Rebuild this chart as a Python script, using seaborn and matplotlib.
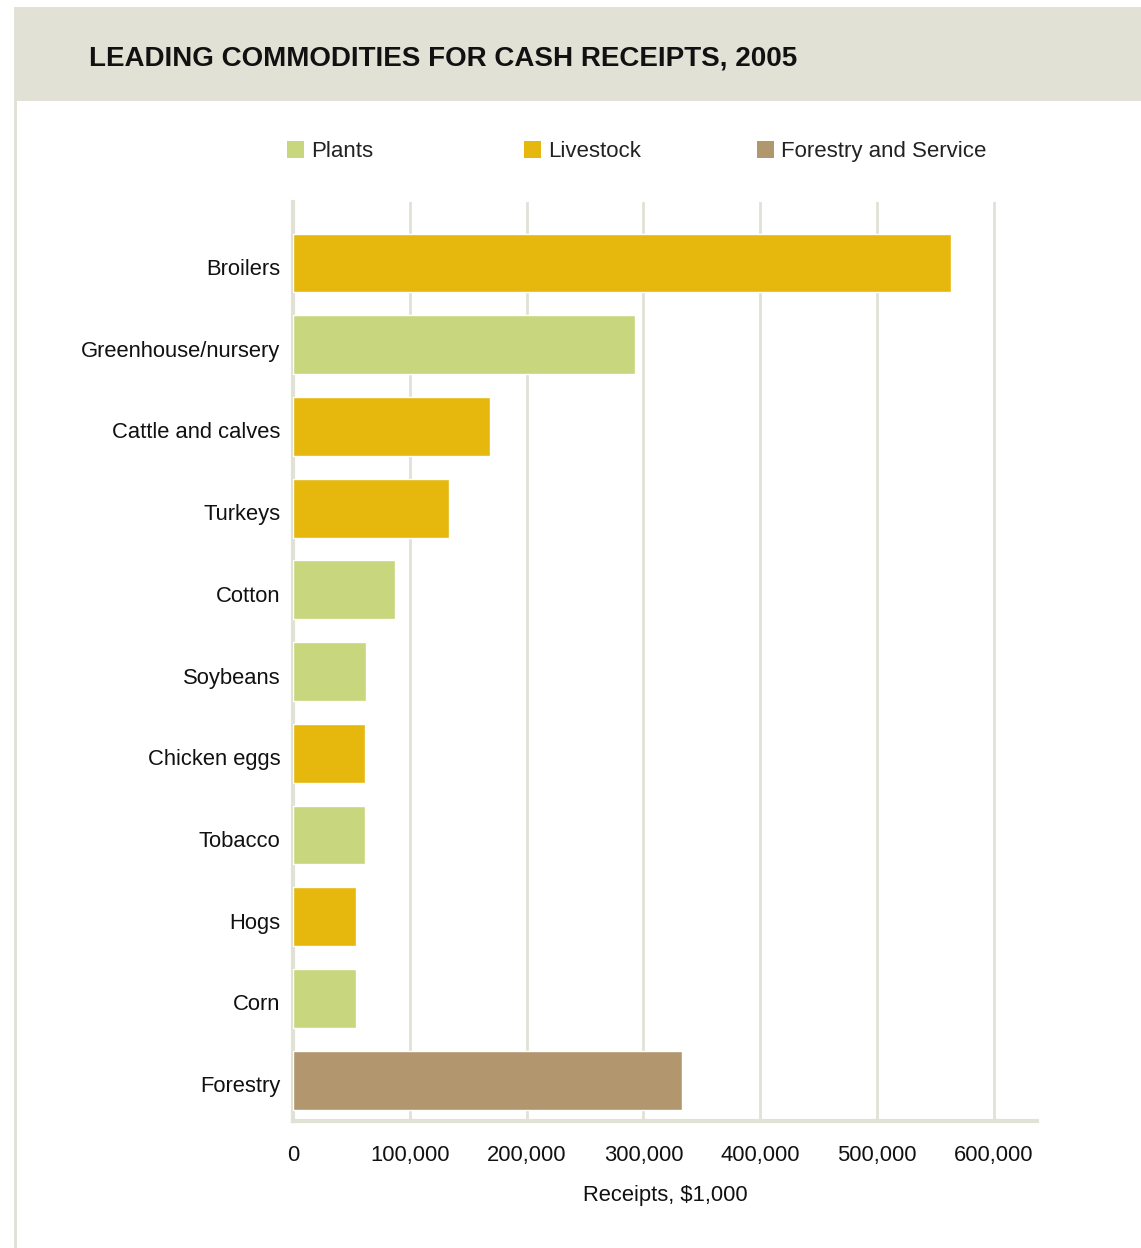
import matplotlib
matplotlib.use("Agg")
import matplotlib.pyplot as plt
import matplotlib.patches as mpatches
from matplotlib.transforms import ScaledTranslation
import seaborn as sns
import pandas as pd

commodities = ["Broilers", "Greenhouse/nursery", "Cattle and calves", "Turkeys", "Cotton",
               "Soybeans", "Chicken eggs", "Tobacco", "Hogs", "Corn", "Forestry"]
receipts = [563000, 293000, 168500, 133500, 87000, 62500, 61500, 61500, 54000, 54000, 333000]
groups = ["Livestock", "Plants", "Livestock", "Livestock", "Plants",
          "Plants", "Livestock", "Plants", "Livestock", "Plants", "Forestry and Service"]
legend_order = ["Plants", "Livestock", "Forestry and Service"]
palette = {"Plants": "#c8d67d", "Livestock": "#e6b70c", "Forestry and Service": "#b2966e"}
x_ticks = [0, 100000, 200000, 300000, 400000, 500000, 600000]

df = pd.DataFrame({"Commodity": commodities, "Receipts": receipts, "Group": groups})

sns.set_theme(style="white")
plt.rcParams['font.family'] = ['Liberation Sans', 'DejaVu Sans']

W, H = 1141, 1248
fig = plt.figure(figsize=(W / 100, H / 100), dpi=100)
fig.patch.set_facecolor("white")

grey = "#e2e1d6"
# header band
fig.patches.append(mpatches.Rectangle((14 / W, 1 - 101 / H), 1 - 14 / W, 94 / H,
                                      transform=fig.transFigure, facecolor=grey, edgecolor="none", zorder=0))
# left border
fig.patches.append(mpatches.Rectangle((14 / W, 0), 3 / W, 1 - 101 / H,
                                      transform=fig.transFigure, facecolor=grey, edgecolor="none", zorder=0))
fig.text(89 / W, 1 - 58 / H, "LEADING COMMODITIES FOR CASH RECEIPTS, 2005",
         fontsize=20, fontweight="bold", color="#111111", ha="left", va="center")

ax_left, ax_right, ax_top, ax_bottom = 293, 1037, 202, 1121
ax = fig.add_axes([ax_left / W, 1 - ax_bottom / H, (ax_right - ax_left) / W, (ax_bottom - ax_top) / H])

sns.barplot(data=df, y="Commodity", x="Receipts", hue="Group", palette=palette,
            dodge=False, width=0.72, orient="h", ax=ax, legend=False, saturation=1,
            order=commodities, hue_order=legend_order, zorder=3)

ax.set_xlim(0, (ax_right - ax_left) / 1.168 * 1000)
ax.set_ylim(10.5, -0.747)
ax.set_xticks(x_ticks)
ax.set_xticklabels([f"{v:,}" for v in x_ticks], fontsize=15.8, color="#111111")
ax.tick_params(axis="x", length=0, pad=17)
ax.tick_params(axis="y", length=0, pad=9, labelsize=15.8, labelcolor="#111111")
off = ScaledTranslation(0, -4 / 100, fig.dpi_scale_trans)
for lab in ax.get_yticklabels():
    lab.set_transform(lab.get_transform() + off)
ax.xaxis.grid(True, color=grey, linewidth=2, zorder=0)
ax.set_axisbelow(True)
ax.set_ylabel("")
ax.set_xlabel("Receipts, $1,000", fontsize=15.8, color="#111111", labelpad=14)
for s in ["top", "right"]:
    ax.spines[s].set_visible(False)
ax.spines["left"].set_color(grey)
ax.spines["left"].set_linewidth(3)
ax.spines["bottom"].set_color(grey)
ax.spines["bottom"].set_linewidth(3)

# legend
leg_sq = [287, 524, 757]
for xs, name in zip(leg_sq, legend_order):
    fig.patches.append(mpatches.Rectangle((xs / W, 1 - 158 / H), 17 / W, 17 / H,
                                          transform=fig.transFigure, facecolor=palette[name],
                                          edgecolor="none"))
    fig.text((xs + 24) / W, 1 - 157 / H, name, fontsize=16, color="#222222", ha="left", va="baseline")

fig.savefig("out.png", dpi=100, facecolor="white")
